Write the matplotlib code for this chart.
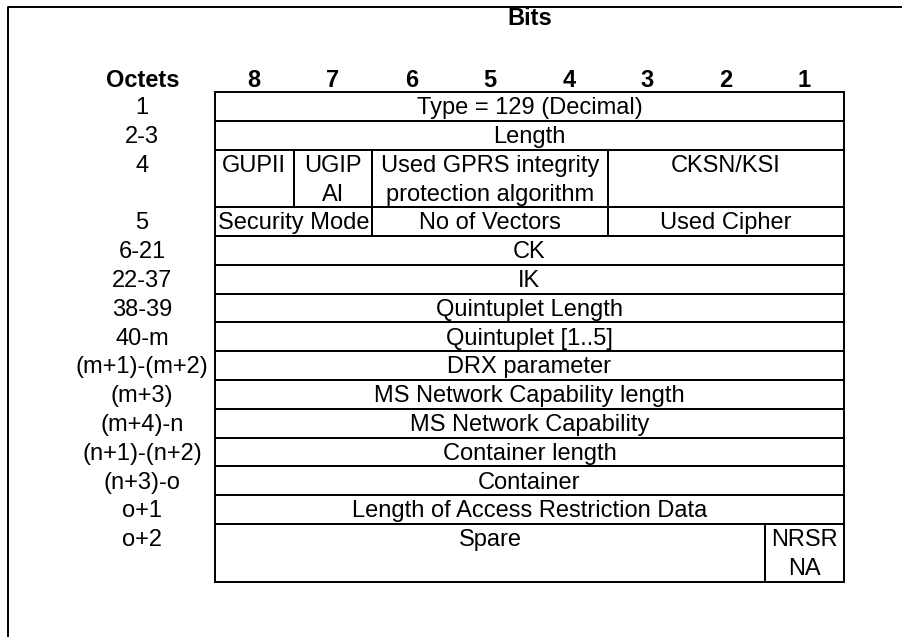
import matplotlib.pyplot as plt

plt.rcParams['font.family'] = ['Liberation Sans', 'DejaVu Sans']

# octet labels and how many text lines each row takes
octets = ["1", "2-3", "4", "5", "6-21", "22-37", "38-39", "40-m",
          "(m+1)-(m+2)", "(m+3)", "(m+4)-n", "(n+1)-(n+2)", "(n+3)-o",
          "o+1", "o+2"]
row_lines = [1, 1, 2, 1, 1, 1, 1, 1, 1, 1, 1, 1, 1, 1, 2]

# fields per row: (text, first bit, last bit)
fields = [
    [("Type = 129 (Decimal)", 8, 1)],
    [("Length", 8, 1)],
    [("GUPII", 8, 8), ("UGIP\nAI", 7, 7),
     ("Used GPRS integrity\nprotection algorithm", 6, 4), ("CKSN/KSI", 3, 1)],
    [("Security Mode", 8, 7), ("No of Vectors", 6, 4), ("Used Cipher", 3, 1)],
    [("CK", 8, 1)],
    [("IK", 8, 1)],
    [("Quintuplet Length", 8, 1)],
    [("Quintuplet [1..5]", 8, 1)],
    [("DRX parameter", 8, 1)],
    [("MS Network Capability length", 8, 1)],
    [("MS Network Capability", 8, 1)],
    [("Container length", 8, 1)],
    [("Container", 8, 1)],
    [("Length of Access Restriction Data", 8, 1)],
    [("Spare", 8, 2), ("NRSR\nNA", 1, 1)],
]
bits = [8, 7, 6, 5, 4, 3, 2, 1]

W, H = 911, 637
left, colw = 215, 78.6
top, unit = 92, 28.8
fs = 17
lw = 1.4

fig = plt.figure(figsize=(W / 100, H / 100), dpi=100)
ax = fig.add_axes([0, 0, 1, 1])
ax.set_xlim(0, W)
ax.set_ylim(H, 0)
ax.axis('off')

# outer frame (only top and left visible)
ax.plot([8, 8, 902], [H + 5, 7, 7], color='black', lw=lw, solid_capstyle='butt')

right = left + colw * len(bits)
ax.text((left + right) / 2, 25, "Bits", ha='center', va='baseline',
        fontsize=fs, fontweight='bold')
ax.text(143, 87, "Octets", ha='center', va='baseline', fontsize=fs, fontweight='bold')
for i, b in enumerate(bits):
    ax.text(left + colw * (i + 0.5), 87, str(b), ha='center', va='baseline',
            fontsize=fs, fontweight='bold')

y = top
for label, n, row in zip(octets, row_lines, fields):
    h = unit * n
    ax.text(142, y + 0.77 * unit, label, ha='center', va='baseline', fontsize=fs)
    for text, b0, b1 in row:
        x0 = left + colw * (8 - b0)
        x1 = left + colw * (9 - b1)
        ax.add_patch(plt.Rectangle((x0, y), x1 - x0, h, fill=False,
                                   edgecolor='black', lw=lw))
        for k, line in enumerate(text.split("\n")):
            ax.text((x0 + x1) / 2, y + (0.77 + k) * unit, line, ha='center',
                    va='baseline', fontsize=fs)
    y += h

fig.savefig("out.png", dpi=100)
